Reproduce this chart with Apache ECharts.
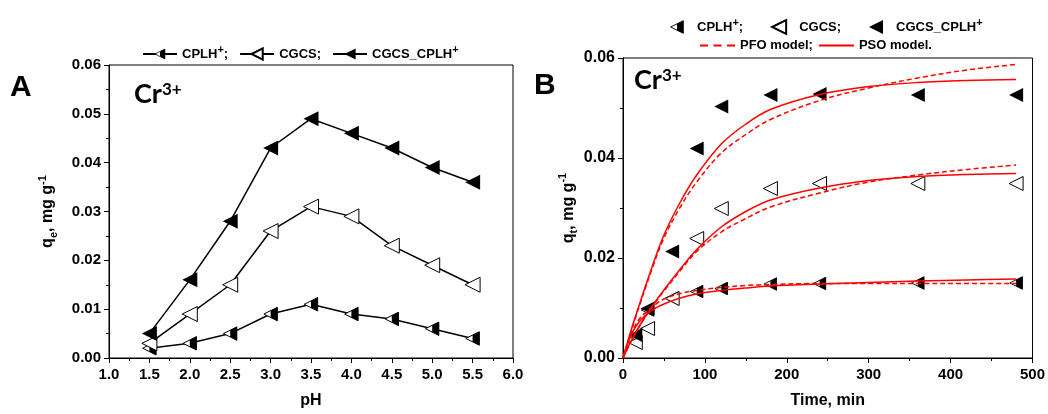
<!DOCTYPE html>
<html>
<head>
<meta charset="utf-8">
<script src="https://cdn.jsdelivr.net/npm/echarts@6/dist/echarts.min.js"></script>
<style>
  html, body { margin: 0; padding: 0; background: #fff; }
  #chart { width: 1048px; height: 414px; }
</style>
</head>
<body>
<div id="chart"></div>
<script>
// ---- panel A: q_e vs pH ----
const phVals  = [1.5, 2.0, 2.5, 3.0, 3.5, 4.0, 4.5, 5.0, 5.5];
const phCPLH  = [0.002, 0.003, 0.005, 0.009, 0.011, 0.009, 0.008, 0.006, 0.004];
const phCGCS  = [0.003, 0.009, 0.015, 0.026, 0.031, 0.029, 0.023, 0.019, 0.015];
const phMix   = [0.005, 0.016, 0.028, 0.043, 0.049, 0.046, 0.043, 0.039, 0.036];

// ---- panel B: q_t vs time ----
const timeVals = [15, 30, 60, 90, 120, 180, 240, 360, 480];
const tCPLH = [0.0043, 0.0096, 0.0120, 0.0133, 0.0139, 0.0148, 0.0149, 0.0150, 0.0150];
const tCGCS = [0.0031, 0.0059, 0.0119, 0.0239, 0.0299, 0.0339, 0.0349, 0.0349, 0.0349];
const tMix  = [0.0046, 0.0099, 0.0213, 0.0419, 0.0503, 0.0526, 0.0528, 0.0526, 0.0526];

// model curves
const fitTime = [0, 10, 20, 35, 50, 70, 90, 120, 150, 180, 240, 300, 360, 420, 480];
const pfoMix  = [0, 0.0054, 0.0104, 0.0176, 0.0240, 0.0302, 0.0352, 0.0410, 0.0447, 0.0477, 0.0515, 0.0540, 0.0560, 0.0576, 0.0587];
const psoMix  = [0, 0.0056, 0.0107, 0.0180, 0.0246, 0.0312, 0.0366, 0.0428, 0.0468, 0.0497, 0.0527, 0.0543, 0.0551, 0.0555, 0.0557];
const pfoCGCS = [0, 0.0033, 0.0063, 0.0101, 0.0134, 0.0175, 0.0213, 0.0252, 0.0279, 0.0302, 0.0330, 0.0352, 0.0366, 0.0377, 0.0386];
const psoCGCS = [0, 0.0034, 0.0064, 0.0102, 0.0136, 0.0178, 0.0217, 0.0262, 0.0293, 0.0316, 0.0340, 0.0355, 0.0363, 0.0367, 0.0369];
const pfoCPLH = [0, 0.0048, 0.0078, 0.0101, 0.0118, 0.0129, 0.0135, 0.0141, 0.0145, 0.0147, 0.0149, 0.0149, 0.0149, 0.0149, 0.0149];
const psoCPLH = [0, 0.0046, 0.0073, 0.0095, 0.0108, 0.0120, 0.0128, 0.0135, 0.0140, 0.0144, 0.0148, 0.0151, 0.0154, 0.0156, 0.0158];

const pairs = (xs, ys) => xs.map((x, i) => [x, ys[i]]);

const FONT = '"Liberation Sans", Arial, sans-serif';

// markers: left-pointing triangles
const tri = 'path://M0,10 L20,0 L20,20 Z';
const halfSvg = '<svg xmlns="http://www.w3.org/2000/svg" width="30" height="30" viewBox="0 0 30 30">' +
  '<polygon points="1.5,15 28.5,1.5 28.5,28.5" fill="#fff" stroke="#000" stroke-width="2"/>' +
  '<polygon points="15,8.25 28.5,1.5 28.5,28.5 15,21.75" fill="#000"/></svg>';
const half = 'image://data:image/svg+xml;charset=utf-8,' + encodeURIComponent(halfSvg);
const openStyle = { color: '#fff', borderColor: '#000', borderWidth: 1, opacity: 1 };
const fillStyle = { color: '#000', opacity: 1 };

const legendText = {
  aCPLH: '{t|CPLH}{p|+}{t|;}',
  aCGCS: '{t|CGCS;}',
  aMix:  '{t|CGCS_CPLH}{p|+}',
  bCPLH: '{f|CPLH}{p|+}{t|;}',
  bCGCS: '{f|CGCS;}',
  bMix:  '{f|CGCS_CPLH}{p|+}',
  'PFO model': '{t|PFO model;}',
  'PSO model': '{t|PSO model.}'
};
const legendRich = {
  t: { fontSize: 13, fontWeight: 'bold', fontFamily: FONT, color: '#000', lineHeight: 20 },
  f: { fontSize: 13, fontWeight: 'bold', fontFamily: FONT, color: '#000', lineHeight: 20, padding: [0, 0, 0, 8] },
  p: { fontSize: 11, fontWeight: 'bold', fontFamily: FONT, color: '#000', lineHeight: 11, verticalAlign: 'top' }
};

const labelStyle = { fontSize: 15, fontWeight: 'bold', fontFamily: FONT, color: '#000' };
const nameRich = {
  a: { fontSize: 16, fontWeight: 'bold', fontFamily: FONT, color: '#000', lineHeight: 22 },
  sub: { fontSize: 11, fontWeight: 'bold', fontFamily: FONT, color: '#000', lineHeight: 11, verticalAlign: 'bottom' },
  sup: { fontSize: 11, fontWeight: 'bold', fontFamily: FONT, color: '#000', lineHeight: 11, verticalAlign: 'top' }
};

function xAxis(gi, min, max, interval, name, fmt) {
  return {
    gridIndex: gi, type: 'value', min: min, max: max, interval: interval,
    name: name, nameLocation: 'middle', nameGap: 35,
    nameTextStyle: { fontSize: 16, fontWeight: 'bold', fontFamily: FONT, color: '#000' },
    axisLine: { onZero: false, lineStyle: { color: '#000', width: 1 } },
    axisTick: { length: 5, lineStyle: { color: '#000' } },
    minorTick: { show: true, splitNumber: 2, length: 3, lineStyle: { color: '#000' } },
    splitLine: { show: false },
    axisLabel: Object.assign({ margin: 9, formatter: fmt }, labelStyle)
  };
}
function yAxis(gi, interval, name, gap, size) {
  return {
    gridIndex: gi, type: 'value', min: 0, max: 0.06, interval: interval,
    name: name, nameLocation: 'middle', nameGap: gap,
    nameTextStyle: { rich: nameRich },
    axisLine: { onZero: false, lineStyle: { color: '#000', width: 1 } },
    axisTick: { length: 5, lineStyle: { color: '#000' } },
    minorTick: { show: true, splitNumber: 2, length: 3, lineStyle: { color: '#000' } },
    splitLine: { show: false },
    axisLabel: Object.assign({}, labelStyle, { margin: 8, fontSize: size, formatter: v => v.toFixed(2) })
  };
}

function phLine(name, ys, symbol, style) {
  return {
    name: name, type: 'line', xAxisIndex: 0, yAxisIndex: 0,
    data: pairs(phVals, ys), symbol: symbol, symbolSize: 15,
    lineStyle: { color: '#000', width: 1.5 }, itemStyle: style
  };
}
function kinPoints(name, ys, symbol, style) {
  return {
    name: name, type: 'scatter', xAxisIndex: 1, yAxisIndex: 1,
    data: pairs(timeVals, ys), symbol: symbol, symbolSize: 14, itemStyle: style
  };
}
function modelLine(name, ys, dashed) {
  return {
    name: name, type: 'line', xAxisIndex: 1, yAxisIndex: 1,
    data: pairs(fitTime, ys), symbol: 'none', showSymbol: false,
    smooth: 0.35,
    itemStyle: { color: '#ff0000' },
    lineStyle: { color: '#ff0000', width: 1.5, type: dashed ? [5, 3] : 'solid' }
  };
}

const chart = echarts.init(document.getElementById('chart'));
chart.setOption({
  animation: false,
  backgroundColor: '#fff',
  grid: [
    { left: 109, top: 65, width: 404, height: 297, show: true, borderColor: '#000', borderWidth: 1 },
    { left: 623, top: 58, width: 410, height: 300, show: true, borderColor: '#000', borderWidth: 1 }
  ],
  xAxis: [
    xAxis(0, 1, 6, 0.5, 'pH', v => v.toFixed(1)),
    xAxis(1, 0, 500, 100, 'Time, min', v => String(v))
  ],
  yAxis: [
    yAxis(0, 0.01, '{a|q}{sub|e}{a|, mg g}{sup|-1}', 50, 15),
    yAxis(1, 0.02, '{a|q}{sub|t}{a|, mg g}{sup|-1}', 42, 16)
  ],
  legend: [
    {
      left: 142, top: 44, padding: 0, itemWidth: 34, itemHeight: 14, itemGap: 11,
      data: ['aCPLH', 'aCGCS', 'aMix'], selectedMode: false,
      formatter: n => legendText[n], textStyle: { rich: legendRich }
    },
    {
      left: 670, top: 17, padding: 0, itemWidth: 14, itemHeight: 14, itemGap: 28,
      data: ['bCPLH', 'bCGCS', 'bMix'], selectedMode: false,
      formatter: n => legendText[n], textStyle: { rich: legendRich }
    },
    {
      left: 700, top: 39, padding: 0, itemWidth: 35, itemHeight: 2, itemGap: 6, selectedMode: false,
      data: [
        { name: 'PFO model', icon: 'path://M0,0h8v2h-8z M13.5,0h8v2h-8z M27,0h8v2h-8z', itemStyle: { borderWidth: 0 } },
        { name: 'PSO model', icon: 'path://M0,0h35v2h-35z', itemStyle: { borderWidth: 0 } }
      ],
      formatter: n => legendText[n], textStyle: { rich: legendRich }
    }
  ],
  graphic: [
    { type: 'text', left: 10, top: 73, style: { text: 'A', font: 'bold 30px "Liberation Sans"', fill: '#000' } },
    { type: 'text', left: 534, top: 71, style: { text: 'B', font: 'bold 30px "Liberation Sans"', fill: '#000' } },
    { type: 'text', left: 134, top: 81, style: { text: '{c|Cr}{s|3+}', rich: {
      c: { fontSize: 27, fontWeight: 'bold', fontFamily: 'Lato', fill: '#000' },
      s: { fontSize: 17, fontWeight: 'bold', fontFamily: 'Lato', fill: '#000', verticalAlign: 'top' } } } },
    { type: 'text', left: 634, top: 67, style: { text: '{c|Cr}{s|3+}', rich: {
      c: { fontSize: 27, fontWeight: 'bold', fontFamily: 'Lato', fill: '#000' },
      s: { fontSize: 17, fontWeight: 'bold', fontFamily: 'Lato', fill: '#000', verticalAlign: 'top' } } } }
  ],
  series: [
    phLine('aCPLH', phCPLH, half, fillStyle),
    phLine('aCGCS', phCGCS, tri, openStyle),
    phLine('aMix', phMix, tri, fillStyle),
    kinPoints('bCPLH', tCPLH, half, fillStyle),
    kinPoints('bCGCS', tCGCS, tri, openStyle),
    kinPoints('bMix', tMix, tri, fillStyle),
    modelLine('PFO model', pfoMix, true),
    modelLine('PSO model', psoMix, false),
    modelLine('PFO model', pfoCGCS, true),
    modelLine('PSO model', psoCGCS, false),
    modelLine('PFO model', pfoCPLH, true),
    modelLine('PSO model', psoCPLH, false)
  ]
});
</script>
</body>
</html>
